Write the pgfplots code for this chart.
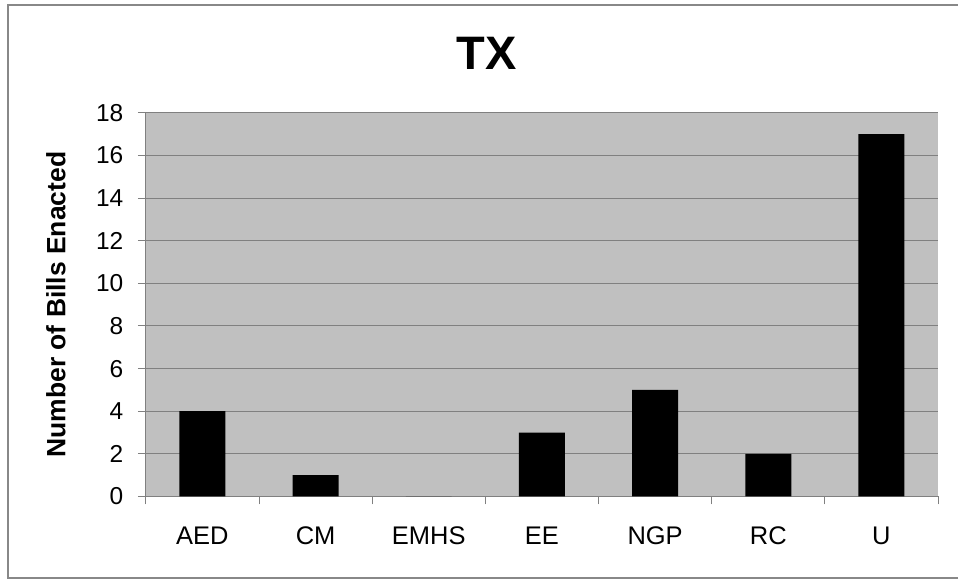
\documentclass[border=0pt]{standalone}
\usepackage{pgfplots}
\pgfplotsset{compat=1.18}
\usepackage{fontspec}
\setmainfont{Liberation Sans}
\definecolor{plotbg}{RGB}{192,192,192}
\definecolor{gridc}{RGB}{128,128,128}
\definecolor{framec}{RGB}{136,136,136}
\begin{document}
\begin{tikzpicture}[x=1pt,y=1pt]
\path (0,0) rectangle (959,580);
\draw[framec, line width=2pt] (959,1.5) -- (8,1.5) -- (8,575) -- (959,575);
\node[font=\fontsize{47}{52}\selectfont\bfseries] at (487,527) {TX};
\begin{axis}[
  at={(146pt,83pt)}, anchor=south west,
  scale only axis, width=793pt, height=384pt,
  xmin=-0.5, xmax=6.5, ymin=0, ymax=18,
  axis background/.style={fill=plotbg},
  axis lines*=left,
  axis line style={gridc, line width=1pt},
  ytick={0,2,...,18},
  ymajorgrids, grid style={gridc, line width=1pt},
  xtick={-0.5,0.5,1.5,2.5,3.5,4.5,5.5,6.5},
  x tick label as interval,
  xticklabels={AED,CM,EMHS,EE,NGP,RC,U},
  tick align=outside, major tick length=8pt,
  tick style={gridc, line width=1pt},
  /pgf/number format/assume math mode=true,
  yticklabel style={font=\fontsize{24.5}{27}\selectfont, xshift=-11pt},
  xticklabel style={font=\fontsize{25.5}{28}\selectfont, yshift=-19pt},
  ylabel={Number of Bills Enacted},
  ylabel style={font=\fontsize{26.5}{30}\selectfont\bfseries, at={(axis description cs:-0.1135,0.5)}, anchor=center},
  clip=false,
]
\addplot[ybar, bar width=46pt, fill=black, draw=none] coordinates {
  (0,4) (1,1) (2,0) (3,3) (4,5) (5,2) (6,17)
};
\end{axis}
\end{tikzpicture}
\end{document}
